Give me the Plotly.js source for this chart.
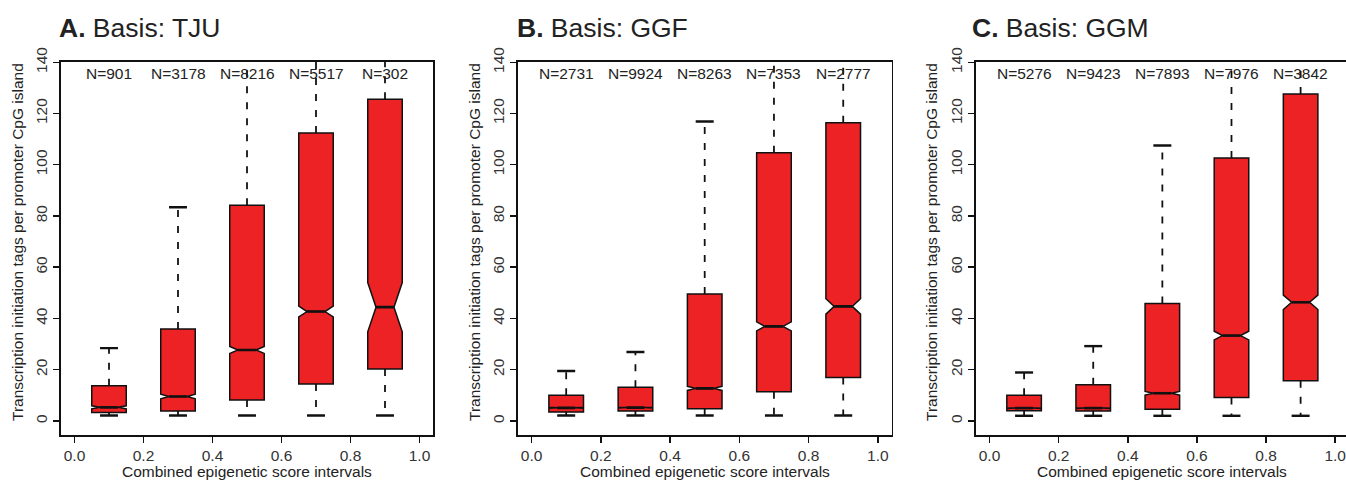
<!DOCTYPE html>
<html>
<head>
<meta charset="utf-8">
<script src="https://cdn.plot.ly/plotly-3.0.1.min.js"></script>
<style>
html,body{margin:0;padding:0;background:#fff;overflow:hidden;}
#chart{width:1352px;height:481px;}
</style>
</head>
<body>
<div id="chart"></div>
<script>
// ---------- data ----------
const panelTitles = ["A.", "B.", "C."];
const panelBasis = ["Basis: TJU", "Basis: GGF", "Basis: GGM"];
const intervals = [0.1, 0.3, 0.5, 0.7, 0.9];

const countsTJU = [901, 3178, 8216, 5517, 302];
const q1TJU     = [3.3, 3.9, 8.2, 14.4, 20.3];
const medTJU    = [5.3, 9.5, 27.7, 42.7, 44.4];
const q3TJU     = [13.7, 35.9, 84.2, 112.4, 125.6];
const loTJU     = [2.1, 2.1, 2.1, 2.1, 2.1];
const hiTJU     = [28.4, 83.4, 195, 250, 280];
const notchTJU  = [0.6, 0.9, 1.35, 2.1, 9.6];

const countsGGF = [2731, 9924, 8263, 7353, 2777];
const q1GGF     = [3.5, 3.9, 4.7, 11.4, 16.9];
const medGGF    = [5.1, 5.2, 12.7, 36.9, 44.7];
const q3GGF     = [10.0, 13.1, 49.5, 104.7, 116.4];
const loGGF     = [2.1, 2.1, 2.1, 2.1, 2.1];
const hiGGF     = [19.5, 26.9, 116.9, 245, 265];
const notchGGF  = [0.2, 0.15, 0.8, 1.75, 3.0];

const countsGGM = [5276, 9423, 7893, 7976, 3842];
const q1GGM     = [4.0, 3.9, 4.6, 9.1, 15.7];
const medGGM    = [5.0, 5.0, 10.8, 33.3, 46.3];
const q3GGM     = [10.0, 14.1, 45.8, 102.6, 127.6];
const loGGM     = [2.0, 2.0, 2.0, 2.0, 2.0];
const hiGGM     = [18.9, 29.2, 107.5, 240, 270];
const notchGGM  = [0.15, 0.18, 0.7, 1.7, 2.8];

const xTickVals = [0, 0.2, 0.4, 0.6, 0.8, 1.0];
const xTickText = ["0.0", "0.2", "0.4", "0.6", "0.8", "1.0"];
const yTickVals = [0, 20, 40, 60, 80, 100, 120, 140];
const xTitle = "Combined epigenetic score intervals";
const yTitle = "Transcription initiation tags per promoter CpG island";

// ---------- styling ----------
const W = 1352, H = 481;
const FONT = "Liberation Sans, Arial, Helvetica, sans-serif";
const FS = 15.5;
const RED = "#ED2224";
const BOXW = 0.1;
const NOTCHW = 0.24;
const STAPLE = 0.026;
const panelsPx = [[60.7, 433.3], [517.7, 891.7], [975.7, 1349]];
const plotTopPx = 62, plotBotPx = 435;
const yTitleXPx = [18, 475, 932];
const titleXPx = [57, 515, 970];

const panels = [
  {n: countsTJU, q1: q1TJU, med: medTJU, q3: q3TJU, lo: loTJU, hi: hiTJU, notch: notchTJU},
  {n: countsGGF, q1: q1GGF, med: medGGF, q3: q3GGF, lo: loGGF, hi: hiGGF, notch: notchGGF},
  {n: countsGGM, q1: q1GGM, med: medGGM, q3: q3GGM, lo: loGGM, hi: hiGGM, notch: notchGGM}
];

const traces = [];
const annotations = [];
const layout = {
  width: W, height: H,
  margin: {l: 0, r: 0, t: 0, b: 0},
  paper_bgcolor: "#fff", plot_bgcolor: "#fff",
  showlegend: false,
  font: {family: FONT, size: FS, color: "#222"},
  annotations: annotations
};

panels.forEach((p, i) => {
  const xa = i === 0 ? "x" : "x" + (i + 1);
  const ya = i === 0 ? "y" : "y" + (i + 1);
  const xKey = i === 0 ? "xaxis" : "xaxis" + (i + 1);
  const yKey = i === 0 ? "yaxis" : "yaxis" + (i + 1);

  const wx = [], wy = [], sx = [], sy = [], mx = [], my = [];
  const mh = BOXW / 2 * (1 - 2 * NOTCHW);
  intervals.forEach((x, k) => {
    wx.push(x, x, null, x, x, null);
    wy.push(p.q3[k], p.hi[k], null, p.q1[k], p.lo[k], null);
    sx.push(x - STAPLE, x + STAPLE, null, x - STAPLE, x + STAPLE, null);
    sy.push(p.hi[k], p.hi[k], null, p.lo[k], p.lo[k], null);
    mx.push(x - mh, x + mh, null);
    my.push(p.med[k], p.med[k], null);
  });
  traces.push({
    type: "scatter", mode: "lines", x: wx, y: wy, xaxis: xa, yaxis: ya,
    line: {color: "#111", width: 1.8, dash: "7px,9px"}, hoverinfo: "skip"
  });
  traces.push({
    type: "scatter", mode: "lines", x: sx, y: sy, xaxis: xa, yaxis: ya,
    line: {color: "#111", width: 2.4}, hoverinfo: "skip"
  });
  traces.push({
    type: "box", xaxis: xa, yaxis: ya,
    x: intervals, q1: p.q1, median: p.med, q3: p.q3,
    lowerfence: p.q1, upperfence: p.q3, notchspan: p.notch,
    notched: true, notchwidth: NOTCHW, width: BOXW, whiskerwidth: 0,
    boxpoints: false, fillcolor: RED,
    line: {color: "#111", width: 1.5}
  });
  traces.push({
    type: "scatter", mode: "lines", x: mx, y: my, xaxis: xa, yaxis: ya,
    line: {color: "#111", width: 2.6}, hoverinfo: "skip"
  });

  intervals.forEach((x, k) => {
    annotations.push({
      xref: xa, yref: ya, x: x, y: 135.8, text: "N=" + p.n[k],
      showarrow: false, font: {family: FONT, size: FS, color: "#222"},
      xanchor: "center", yanchor: "middle"
    });
  });

  const d0 = panelsPx[i][0] / W, d1 = Math.min(panelsPx[i][1] / W, 1);
  layout[xKey] = {
    domain: [d0, d1], anchor: ya, range: [-0.04, 1.04],
    tickvals: xTickVals, ticktext: xTickText,
    ticks: "outside", ticklen: 6, tickwidth: 1.5, tickcolor: "#111",
    showline: true, mirror: true, linecolor: "#111", linewidth: 1.6,
    showgrid: false, zeroline: false,
    tickfont: {family: FONT, size: FS, color: "#333"}
  };
  layout[yKey] = {
    domain: [(H - plotBotPx) / H, (H - plotTopPx) / H], anchor: xa,
    range: [-5.5, 140.1], tickvals: yTickVals,
    ticks: "outside", ticklen: 6, tickwidth: 1.5, tickcolor: "#111",
    tickangle: -90,
    showline: true, mirror: true, linecolor: "#111", linewidth: 1.6,
    showgrid: false, zeroline: false,
    tickfont: {family: FONT, size: FS, color: "#333"}
  };

  annotations.push({
    xref: "paper", yref: "paper", x: titleXPx[i] / W, y: (H - 28) / H,
    xanchor: "left", yanchor: "middle", showarrow: false,
    text: "<b>" + panelTitles[i] + "</b> " + panelBasis[i],
    font: {family: FONT, size: 26.5, color: "#222"}
  });
  annotations.push({
    xref: "paper", yref: "paper",
    x: (panelsPx[i][0] + (Math.min(panelsPx[i][1], 1348) - panelsPx[i][0]) / 2) / W,
    y: (H - 471.5) / H, xanchor: "center", yanchor: "middle", showarrow: false,
    text: xTitle, font: {family: FONT, size: FS, color: "#222"}
  });
  annotations.push({
    xref: "paper", yref: "paper", x: yTitleXPx[i] / W, y: (H - 242) / H,
    xanchor: "center", yanchor: "middle", showarrow: false, textangle: -90,
    text: yTitle, font: {family: FONT, size: FS, color: "#222"}
  });
});

Plotly.newPlot("chart", traces, layout, {staticPlot: true, displayModeBar: false});
</script>
</body>
</html>
